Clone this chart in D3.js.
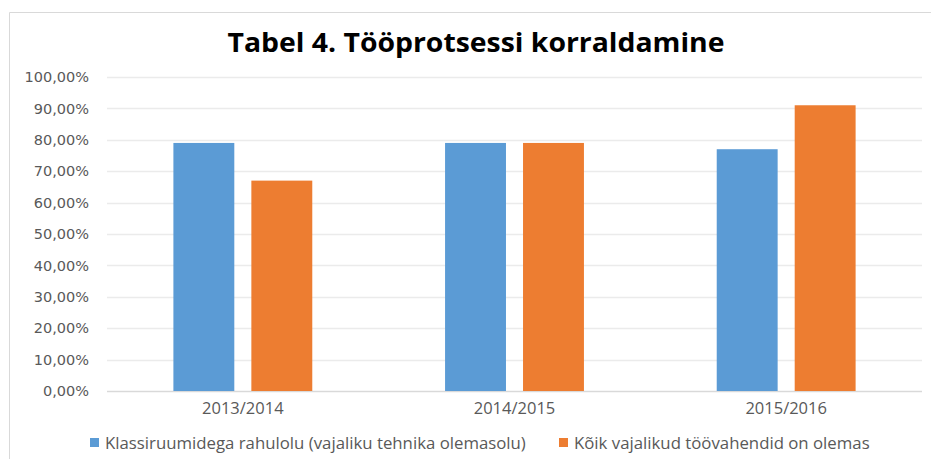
<!DOCTYPE html>
<html>
<head>
<meta charset="utf-8">
<script src="https://cdn.jsdelivr.net/npm/d3@7"></script>
<style>
  body { margin: 0; background: #fff; }
  svg { display: block; }
</style>
</head>
<body>
<svg id="chart" width="931" height="459"></svg>
<script>
// data
const years = ["2013/2014", "2014/2015", "2015/2016"];
const seriesNames = [
  "Klassiruumidega rahulolu (vajaliku tehnika olemasolu)",
  "Kõik vajalikud töövahendid on olemas"
];
const klassiruumid = [0.79, 0.79, 0.77];
const toovahendid = [0.67, 0.79, 0.91];
const yTicks = [0, 0.1, 0.2, 0.3, 0.4, 0.5, 0.6, 0.7, 0.8, 0.9, 1.0];
const colors = ["#5b9bd5", "#ed7d31"];

const svg = d3.select("#chart");
const W = 931, H = 459;
const plot = { left: 107, right: 922, top: 77, bottom: 391 };

// outer frame (only top + left edges are visible in the image)
svg.append("path")
  .attr("d", `M9.5,${H} V12.5 H${W}`)
  .attr("fill", "none")
  .attr("stroke", "#d9d9d9")
  .attr("stroke-width", 1);

svg.append("text")
  .attr("x", 476)
  .attr("y", 52)
  .attr("text-anchor", "middle")
  .attr("font-family", "'Open Sans', sans-serif")
  .attr("font-weight", "bold")
  .attr("font-size", 27)
  .attr("fill", "#000")
  .attr("textLength", 497)
  .attr("lengthAdjust", "spacingAndGlyphs")
  .text("Tabel 4. Tööprotsessi korraldamine");

const rows = years.map((y, i) => ({ year: y, values: [klassiruumid[i], toovahendid[i]] }));

const x0 = d3.scaleBand().domain(years).range([plot.left, plot.right]).padding(0);
const gapWidth = 2.18, seriesGap = 0.28;
const barW = x0.step() / (seriesNames.length + (seriesNames.length - 1) * seriesGap + gapWidth);
const x1 = d3.scaleBand()
  .domain(d3.range(seriesNames.length))
  .range([barW * gapWidth / 2, x0.bandwidth() - barW * gapWidth / 2])
  .paddingInner(seriesGap / (1 + seriesGap));

const y = d3.scaleLinear().domain([0, 1]).range([plot.bottom, plot.top]);

const locale = d3.formatLocale({ decimal: ",", thousands: " ", grouping: [3], currency: ["", "€"] });
const pct = locale.format(".2%");

// gridlines
svg.append("g")
  .selectAll("line")
  .data(yTicks)
  .join("line")
  .attr("x1", plot.left)
  .attr("x2", plot.right)
  .attr("y1", d => Math.round(y(d)) + 0.5)
  .attr("y2", d => Math.round(y(d)) + 0.5)
  .attr("stroke", d => d === 0 ? "#d9d9d9" : "#ebebeb")
  .attr("stroke-width", 1.5);

// y axis labels
const yAxis = svg.append("g")
  .attr("transform", `translate(${plot.left - 18},0)`)
  .call(d3.axisLeft(y).tickValues(yTicks).tickFormat(pct).tickSize(0).tickPadding(0));
yAxis.select(".domain").remove();
yAxis.selectAll("text")
  .attr("font-family", "'DejaVu Sans', sans-serif")
  .attr("font-size", 14.5)
  .attr("fill", "#595959");

// bars
svg.append("g")
  .selectAll("g")
  .data(rows)
  .join("g")
  .attr("transform", d => `translate(${x0(d.year)},0)`)
  .selectAll("rect")
  .data(d => d.values.map((v, i) => ({ i, v })))
  .join("rect")
  .attr("x", d => x1(d.i))
  .attr("width", x1.bandwidth())
  .attr("y", d => y(d.v))
  .attr("height", d => y(0) - y(d.v))
  .attr("fill", d => colors[d.i]);

// x axis labels
const xAxis = svg.append("g")
  .attr("transform", `translate(0,${plot.bottom + 11})`)
  .call(d3.axisBottom(x0).tickSize(0).tickPadding(0));
xAxis.select(".domain").remove();
xAxis.selectAll("text")
  .attr("font-family", "'Open Sans', sans-serif")
  .attr("font-size", 16.5)
  .attr("fill", "#595959");

// legend
const legendX = [90, 559];
const legend = svg.append("g")
  .selectAll("g")
  .data(seriesNames)
  .join("g")
  .attr("transform", (d, i) => `translate(${legendX[i]},443)`);
legend.append("rect")
  .attr("x", 0)
  .attr("y", -5)
  .attr("width", 9)
  .attr("height", 9)
  .attr("fill", (d, i) => colors[i]);
legend.append("text")
  .attr("x", 15)
  .attr("y", 0)
  .attr("dy", "0.35em")
  .attr("font-family", "'Open Sans', sans-serif")
  .attr("font-size", 16.8)
  .attr("fill", "#595959")
  .text(d => d);
</script>
</body>
</html>
